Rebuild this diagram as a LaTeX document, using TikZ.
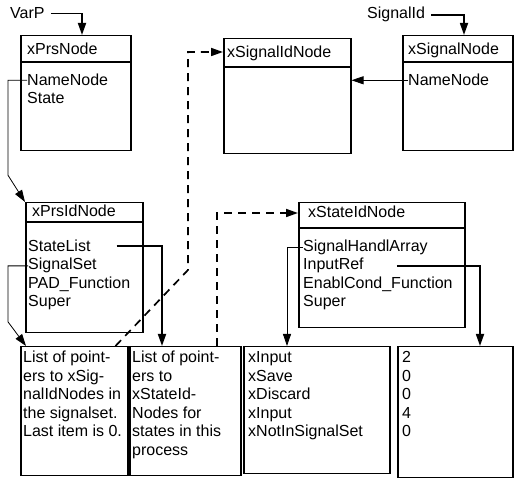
\documentclass[tikz,border=0pt]{standalone}
\usepackage{fontspec}
\setmainfont{Liberation Sans}
\usetikzlibrary{arrows.meta,calc}
\begin{document}
\begin{tikzpicture}[x=1pt,y=-1pt,
  box/.style={draw, line width=1.5pt, anchor=north west, inner sep=0pt},
  txt/.style={anchor=base west, inner sep=0pt, font=\fontsize{16}{19}\selectfont},
  hline/.style={line width=1.5pt},
  heavy/.style={line width=1.7pt},
  light/.style={line width=0.8pt},
  dashline/.style={line width=1.7pt, dash pattern=on 8pt off 6pt},
  tip/.style={-{Triangle[length=12pt,width=8pt]}}
]
\useasboundingbox (0,0) rectangle (520,486);

% boxes
\node[box, minimum width=110pt, minimum height=115pt] (prs) at (20,35) {};
\node[box, minimum width=127pt, minimum height=115pt] (sigid) at (223,38) {};
\node[box, minimum width=110pt, minimum height=115pt] (sig) at (402,35) {};
\node[box, minimum width=117pt, minimum height=130pt] (prsid) at (25,202) {};
\node[box, minimum width=166pt, minimum height=125pt] (stid) at (298,202) {};
\node[box, minimum width=107pt, minimum height=129pt] (b1) at (20,346) {};
\node[box, minimum width=111pt, minimum height=129pt] (b2) at (129,346) {};
\node[box, minimum width=146pt, minimum height=127pt] (b3) at (243,346) {};
\node[box, minimum width=115pt, minimum height=131pt] (b4) at (397,346) {};

% header lines
\draw[hline] (20,62) -- (130,62);
\draw[hline] (223,67) -- (350,67);
\draw[hline] (402,62) -- (512,62);
\draw[hline] (25,222) -- (142,222);
\draw[hline] (298,228) -- (464,228);

% texts
\node[txt] (varp) at (10,19) {VarP};
\node[txt] (sigtxt) at (367,19) {SignalId};
\node[txt] (hPrs) at (27,55) {xPrsNode};
\node[txt] (hSigId) at (227,58) {xSignalIdNode};
\node[txt] (hSig) at (408,55) {xSignalNode};
\node[txt] (hPrsId) at (32,217) {xPrsIdNode};
\node[txt] (hStId) at (308,218) {xStateIdNode};

\node[txt] (prsName) at (27,86) {NameNode};
\node[txt] (prsState) at (27,104) {State};
\node[txt] (sigName) at (408,86) {NameNode};

\node[txt] (psList) at (28,252) {StateList};
\node[txt] (psSet) at (28,270) {SignalSet};
\node[txt] (psPad) at (28,289) {PAD\_Function};
\node[txt] (psSup) at (28,307) {Super};

\node[txt] (stArr) at (303,252) {SignalHandlArray};
\node[txt] (stIn) at (303,270) {InputRef};
\node[txt] (stEn) at (303,289) {EnablCond\_Function};
\node[txt] (stSup) at (303,307) {Super};

\node[txt] (a1) at (23,363) {List of point-};
\node[txt] (a2) at (23,382) {ers to xSig-};
\node[txt] (a3) at (23,400) {nalIdNodes in};
\node[txt] (a4) at (23,419) {the signalset.};
\node[txt] (a5) at (23,437) {Last item is 0.};

\node[txt] (c1) at (132,363) {List of point-};
\node[txt] (c2) at (132,382) {ers to};
\node[txt] (c3) at (132,400) {xStateId-};
\node[txt] (c4) at (132,419) {Nodes for};
\node[txt] (c5) at (132,437) {states in this};
\node[txt] (c6) at (132,456) {process};

\node[txt] (d1) at (248,363) {xInput};
\node[txt] (d2) at (248,382) {xSave};
\node[txt] (d3) at (248,400) {xDiscard};
\node[txt] (d4) at (248,419) {xInput};
\node[txt] (d5) at (248,437) {xNotInSignalSet};

\node[txt] (e1) at (402,363) {2};
\node[txt] (e2) at (402,382) {0};
\node[txt] (e3) at (402,400) {0};
\node[txt] (e4) at (402,419) {4};
\node[txt] (e5) at (402,437) {0};

% connectors
\draw[heavy,tip] ($(varp.east)+(6,0)$) -| ($(prs.north west)+(62,0)$);
\draw[heavy,tip] ($(sigtxt.east)+(6,0)$) -| ($(sig.north west)+(62,0)$);
\draw[light,tip] (sigName.west) -- (sigName.west -| sigid.east);
\draw[light,tip] (prsName.west) -- ++(-19,0) -- ++(0,95) -- (prsid.north west);
\draw[light,tip] (psSet.west) -- ++(-20,0) -- ++(0,56) -- ($(b1.north west)+(6,0)$);
\draw[heavy,tip] ($(psList.east)+(26,0)$) -| ($(b2.north west)+(33,0)$);
\draw[light,tip] (stArr.west) -| ($(b3.north west)+(44,0)$);
\draw[heavy,tip] ($(stIn.east)+(33,0)$) -| ($(b4.north west)+(83,0)$);

\coordinate (bend1) at (188,270);
\draw[dashline,tip] ($(b1.north east)+(-13,0)$) -- (bend1) |- ($(sigid.north west)+(0,14)$);
\draw[dashline,tip] ($(b2.north west)+(88,0)$) |- ($(stid.north west)+(0,11)$);
\end{tikzpicture}
\end{document}
